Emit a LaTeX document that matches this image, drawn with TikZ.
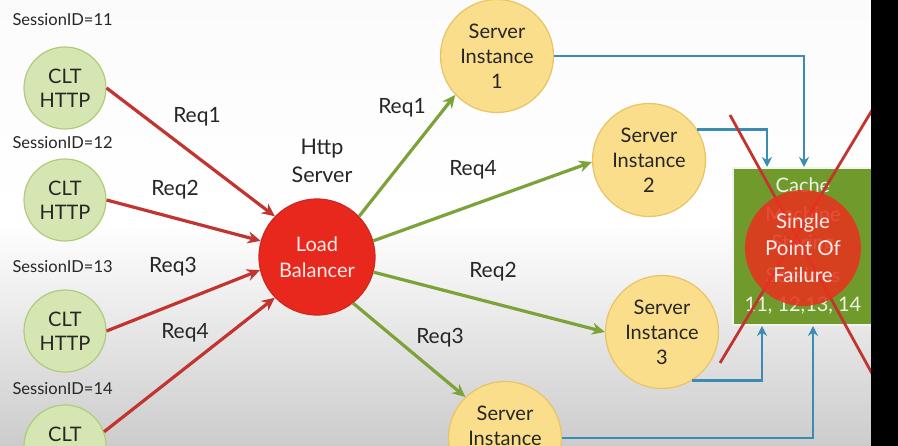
\documentclass[tikz,border=0pt]{standalone}
\usepackage{fontspec}
\setmainfont{Lato}
\usetikzlibrary{arrows.meta,calc}
\definecolor{cltfill}{RGB}{214,230,178}
\definecolor{cltdraw}{RGB}{175,203,125}
\definecolor{lbfill}{RGB}{232,40,28}
\definecolor{lbdraw}{RGB}{205,40,30}
\definecolor{sifill}{RGB}{250,222,140}
\definecolor{sidraw}{RGB}{232,196,100}
\definecolor{redline}{RGB}{194,52,48}
\definecolor{greenline}{RGB}{124,162,58}
\definecolor{blueline}{RGB}{58,140,180}
\definecolor{cachegreen}{RGB}{112,155,44}
\definecolor{failred}{RGB}{232,50,30}
\tikzset{
  clt/.style={circle,minimum size=82pt,inner sep=0pt,fill=cltfill,draw=cltdraw,line width=1.2pt,align=center,font=\fontsize{20}{24}\selectfont,text=black!85},
  lb/.style={circle,minimum size=116pt,inner sep=0pt,fill=lbfill,draw=lbdraw,line width=1.2pt,align=center,font=\fontsize{20}{26}\selectfont,text=white!92!red},
  si/.style={circle,minimum size=113pt,inner sep=0pt,fill=sifill,draw=sidraw,line width=1.2pt,align=center,font=\fontsize{20}{25}\selectfont,text=black!85},
  sid/.style={anchor=west,font=\fontsize{16.5}{19}\selectfont,text=black!85},
  reqlbl/.style={font=\fontsize{21}{25}\selectfont,text=black!85},
  redarr/.style={draw=redline,line width=3.2pt,-{Stealth[length=13pt,width=12pt]}},
  greenarr/.style={draw=greenline,line width=3.2pt,-{Stealth[length=13pt,width=12pt]}},
  bluearr/.style={draw=blueline,line width=2.6pt,-{Stealth[length=10pt,width=10pt]}},
  cachebox/.style={rectangle,fill=cachegreen,draw=white!90!gray,line width=2pt,minimum width=150pt,minimum height=157pt,inner sep=0pt},
  cachetxt/.style={font=\fontsize{20}{24}\selectfont,text=white!88!cachegreen},
  xline/.style={draw=redline,line width=2.8pt},
  fail/.style={circle,minimum size=116pt,inner sep=0pt,fill=failred,fill opacity=0.86,text opacity=1,align=center,font=\fontsize{20.5}{27}\selectfont,text=white!92!red},
}
\begin{document}
\begin{tikzpicture}[x=1pt,y=-1pt]
\useasboundingbox (0,0) rectangle (898,446);
\shade[top color=white!97!gray, bottom color=black!20, middle color=white] (0,0) rectangle (872,446);

% clients
\node[clt] (c1) at (65,88) {CLT\\HTTP};
\node[clt] (c2) at (65,200) {CLT\\HTTP};
\node[clt] (c3) at (65,331) {CLT\\HTTP};
\node[clt] (c4) at (65,446) {CLT\\HTTP};
\node[sid] (sid1) at (9,20) {SessionID=11};
\node[sid] (sid2) at (9,143) {SessionID=12};
\node[sid] (sid3) at (9,267) {SessionID=13};
\node[sid] (sid4) at (9,389) {SessionID=14};

% load balancer
\node[lb] (lb) at (317,257) {Load\\Balancer};
\node[reqlbl,align=center,font=\fontsize{21.5}{28}\selectfont] (http) at (322,161) {Http\\Server};

% server instances
\node[si] (s1) at (497,56) {Server\\Instance\\1};
\node[si] (s2) at (649,160) {Server\\Instance\\2};
\node[si] (s3) at (662,332) {Server\\Instance\\3};
\node[si] (s4) at (505,438) {Server\\Instance\\4};

% red arrows
\draw[redarr] (c1.east) -- (lb.136);
\draw[redarr] (c2.east) -- (lb.164);
\draw[redarr] (c3.east) -- (lb.193);
\draw[redarr] (c4.20) -- (lb.224);
\node[reqlbl] (r1) at (197,117) {Req1};
\node[reqlbl] (r2) at (175,190) {Req2};
\node[reqlbl] (r3) at (173,267) {Req3};
\node[reqlbl] (r4) at (185,333) {Req4};

% green arrows
\draw[greenarr] (lb.44) -- (s1.223);
\draw[greenarr] (lb.16) -- (s2.182);
\draw[greenarr] (lb.-15) -- (s3.180);
\draw[greenarr] (lb.-52) -- (s4.134);
\node[reqlbl] (g1) at (402,108) {Req1};
\node[reqlbl] (g4) at (473,170) {Req4};
\node[reqlbl] (g2) at (493,272) {Req2};
\node[reqlbl] (g3) at (440,338) {Req3};

% cache
\node[cachebox] (cache) at (808,246.5) {};
\node[cachetxt] (ct1) at (803,185) {Cache};
\node[cachetxt] (ct2) at (803,214) {Machine};
\node[cachetxt] (ct3) at (803,244) {Storing};
\node[cachetxt] (ct4) at (803,275) {Sessions};
\node[cachetxt] (ct5) at (803,306) {11, 12,13, 14};

% blue connectors
\coordinate (bx1) at (804,0);
\coordinate (bx2) at (767,0);
\coordinate (bx3) at (762,0);
\coordinate (bx4) at (813,0);
\draw[bluearr] (s1.east) -| (cache.north -| bx1);
\draw[bluearr] (s2.32) -| (cache.north -| bx2);
\draw[bluearr] (s3.-58) -| (cache.south -| bx3);
\draw[bluearr] (s4.east) -| (cache.south -| bx4);

% X over cache
\coordinate (xa1) at (730,115);
\coordinate (xa2) at (880,388);
\coordinate (xb1) at (720,363);
\coordinate (xb2) at (880,97);
\draw[xline] (xa1) -- (xa2);
\draw[xline] (xb1) -- (xb2);

\node[fail] (spof) at (803,248) {Single\\Point Of\\Failure};

% right black bar
\fill[black] (871,0) rectangle (898,446);
\end{tikzpicture}
\end{document}
